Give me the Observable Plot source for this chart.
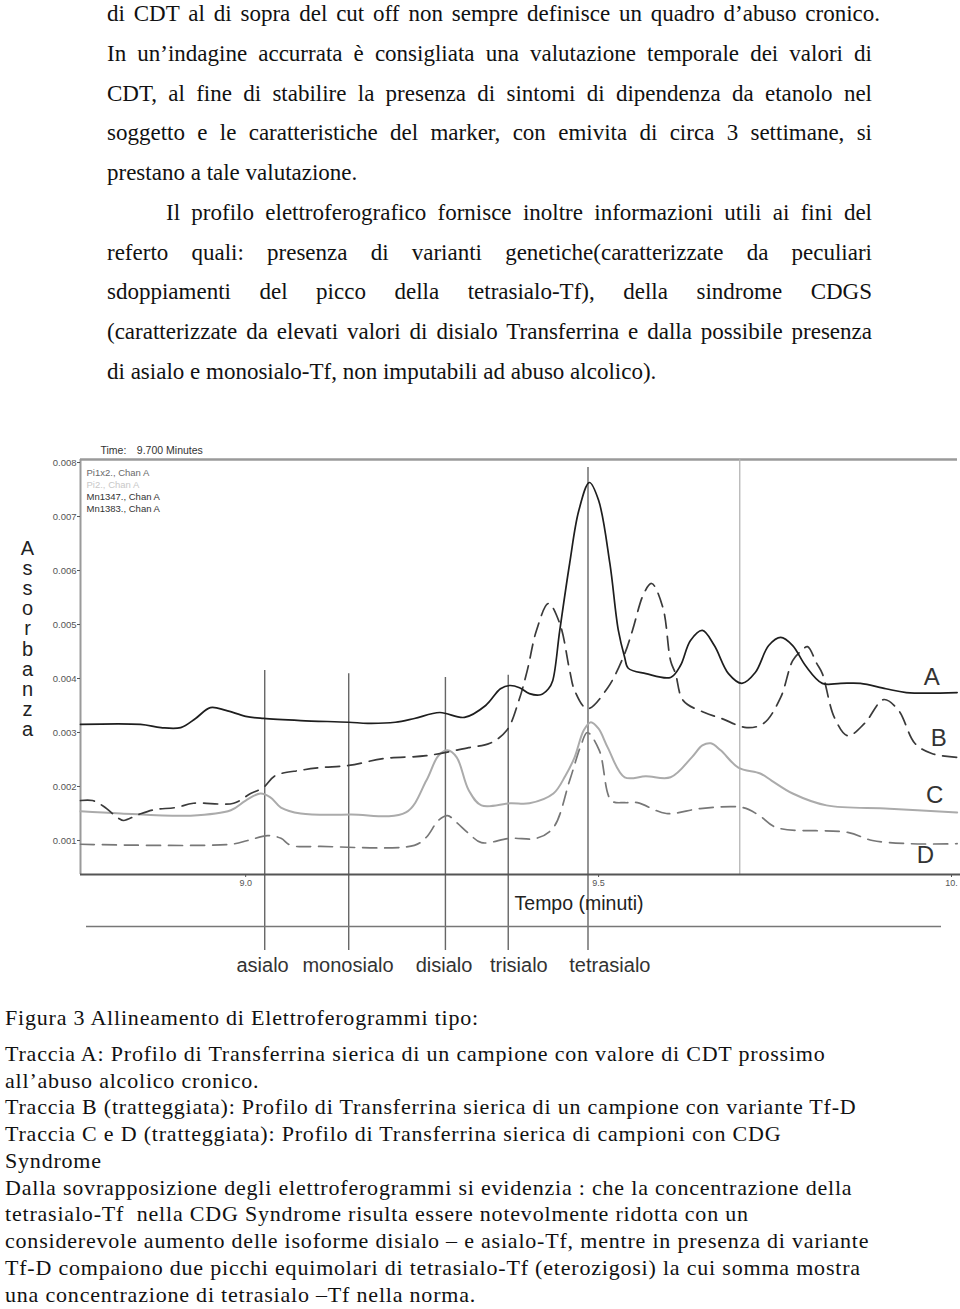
<!DOCTYPE html>
<html>
<head>
<meta charset="utf-8">
<script src="https://cdn.jsdelivr.net/npm/d3@7"></script>
<script src="https://cdn.jsdelivr.net/npm/@observablehq/plot@0.6"></script>
<style>
  html, body { margin: 0; padding: 0; background: #fff; }
  #page { position: relative; width: 960px; height: 1309px; overflow: hidden; background: #fff; }
  #bodytext { position: absolute; left: 107px; top: -6px; width: 765px;
    font-family: "Liberation Serif", "Times New Roman", serif; font-size: 23px; line-height: 39.75px; color: #111; }
  #bodytext .j { text-align: justify; text-align-last: justify; }
  #bodytext .l { text-align: left; }
  #bodytext .wide { width: 773px; text-align: justify; text-align-last: justify; }
  #chart { position: absolute; left: 0; top: 440px; }
  #caption { position: absolute; left: 5px; top: 1005px;
    font-family: "Liberation Serif", "Times New Roman", serif; font-size: 22px; letter-spacing: 0.8px;
    line-height: 26.75px; color: #111; white-space: pre; }
</style>
</head>
<body>
<div id="page">
  <div id="bodytext"></div>
  <div id="chart"></div>
  <div id="caption"></div>
</div>
<script>
// ---------- text content ----------
const paragraph1 = ["di CDT al di sopra del cut off non sempre definisce un quadro d’abuso cronico."];
const paragraph2 = [
  "In un’indagine accurrata è consigliata una valutazione temporale dei valori di",
  "CDT, al fine di stabilire la presenza di sintomi di dipendenza da etanolo nel",
  "soggetto e le caratteristiche del marker, con emivita di circa 3 settimane, si",
  "prestano a tale valutazione."
];
const paragraph3 = [
  "Il profilo elettroferografico fornisce inoltre informazioni utili ai fini del",
  "referto quali: presenza di varianti genetiche(caratterizzate da peculiari",
  "sdoppiamenti del picco della tetrasialo-Tf), della sindrome CDGS",
  "(caratterizzate da elevati valori di disialo Transferrina e dalla possibile presenza",
  "di asialo e monosialo-Tf, non imputabili ad abuso alcolico)."
];
const captionTitle = "Figura 3 Allineamento di Elettroferogrammi tipo:";
const captionLines = [
  "Traccia A: Profilo di Transferrina sierica di un campione con valore di CDT prossimo",
  "all’abuso alcolico cronico.",
  "Traccia B (tratteggiata): Profilo di Transferrina sierica di un campione con variante Tf-D",
  "Traccia C e D (tratteggiata): Profilo di Transferrina sierica di campioni con CDG",
  "Syndrome",
  "Dalla sovrapposizione degli elettroferogrammi si evidenzia : che la concentrazione della",
  "tetrasialo-Tf  nella CDG Syndrome risulta essere notevolmente ridotta con un",
  "considerevole aumento delle isoforme disialo – e asialo-Tf, mentre in presenza di variante",
  "Tf-D compaiono due picchi equimolari di tetrasialo-Tf (eterozigosi) la cui somma mostra",
  "una concentrazione di tetrasialo –Tf nella norma."
];

// ---------- chart data ----------
const timeA = [8.766, 8.851, 8.880, 8.908, 8.929, 8.950, 8.972, 9.000, 9.025, 9.078, 9.146, 9.173, 9.212, 9.239, 9.275, 9.310, 9.340, 9.361, 9.374, 9.388, 9.402, 9.418, 9.429, 9.435, 9.445, 9.459, 9.472, 9.487, 9.500, 9.516, 9.528, 9.537, 9.542, 9.567, 9.602, 9.616, 9.630, 9.647, 9.664, 9.684, 9.703, 9.722, 9.741, 9.758, 9.775, 9.793, 9.817, 9.843, 9.871, 9.907, 9.936, 10.008];
const absA  = [0.00315, 0.00315, 0.00309, 0.00309, 0.00326, 0.00346, 0.00341, 0.00330, 0.00326, 0.00322, 0.00319, 0.00317, 0.00319, 0.00326, 0.00337, 0.00328, 0.00350, 0.00381, 0.00387, 0.00383, 0.00372, 0.00370, 0.00381, 0.00396, 0.00489, 0.00613, 0.00711, 0.00763, 0.00730, 0.00613, 0.00489, 0.00439, 0.00419, 0.00409, 0.00402, 0.00424, 0.00470, 0.00489, 0.00461, 0.00409, 0.00391, 0.00411, 0.00461, 0.00476, 0.00461, 0.00424, 0.00391, 0.00391, 0.00391, 0.00381, 0.00374, 0.00374];

const timeB = [8.766, 8.783, 8.799, 8.820, 8.827, 8.848, 8.870, 8.901, 8.926, 8.983, 9.007, 9.025, 9.042, 9.078, 9.106, 9.146, 9.197, 9.256, 9.316, 9.346, 9.370, 9.387, 9.399, 9.412, 9.429, 9.445, 9.459, 9.466, 9.484, 9.513, 9.537, 9.548, 9.564, 9.575, 9.591, 9.602, 9.609, 9.620, 9.650, 9.674, 9.710, 9.734, 9.758, 9.775, 9.788, 9.796, 9.809, 9.817, 9.834, 9.853, 9.877, 9.904, 9.925, 9.948, 9.972, 10.008];
const absB  = [0.00174, 0.00174, 0.00163, 0.00141, 0.00137, 0.00148, 0.00157, 0.00161, 0.00169, 0.00169, 0.00187, 0.00198, 0.00220, 0.00230, 0.00235, 0.00239, 0.00252, 0.00257, 0.00272, 0.00280, 0.00304, 0.00359, 0.00415, 0.00489, 0.00539, 0.00502, 0.00415, 0.00378, 0.00344, 0.00383, 0.00446, 0.00489, 0.00557, 0.00576, 0.00532, 0.00433, 0.00409, 0.00359, 0.00337, 0.00326, 0.00309, 0.00317, 0.00365, 0.00433, 0.00452, 0.00459, 0.00428, 0.00409, 0.00328, 0.00294, 0.00317, 0.00361, 0.00341, 0.00280, 0.00261, 0.00254];

const timeC = [8.766, 8.823, 8.922, 8.979, 9.000, 9.021, 9.035, 9.050, 9.078, 9.149, 9.227, 9.256, 9.273, 9.286, 9.299, 9.316, 9.334, 9.375, 9.402, 9.436, 9.453, 9.466, 9.479, 9.489, 9.500, 9.513, 9.537, 9.567, 9.602, 9.632, 9.647, 9.659, 9.673, 9.698, 9.729, 9.745, 9.775, 9.823, 9.912, 10.008];
const absC  = [0.00154, 0.00150, 0.00146, 0.00156, 0.00174, 0.00187, 0.00180, 0.00161, 0.00150, 0.00148, 0.00152, 0.00211, 0.00257, 0.00267, 0.00254, 0.00193, 0.00165, 0.00169, 0.00169, 0.00187, 0.00220, 0.00254, 0.00304, 0.00319, 0.00307, 0.00272, 0.00217, 0.00219, 0.00217, 0.00254, 0.00276, 0.00280, 0.00267, 0.00235, 0.00224, 0.00211, 0.00187, 0.00165, 0.00159, 0.00152];

const timeD = [8.766, 8.979, 9.003, 9.031, 9.050, 9.064, 9.106, 9.239, 9.256, 9.273, 9.286, 9.299, 9.316, 9.334, 9.375, 9.412, 9.436, 9.459, 9.475, 9.484, 9.501, 9.518, 9.537, 9.555, 9.596, 9.644, 9.704, 9.728, 9.752, 9.853, 9.888, 9.942, 10.008];
const absD  = [0.00093, 0.00093, 0.00100, 0.00109, 0.00104, 0.00091, 0.00089, 0.00091, 0.00106, 0.00137, 0.00146, 0.00133, 0.00113, 0.00096, 0.00104, 0.00104, 0.00124, 0.00211, 0.00276, 0.00300, 0.00267, 0.00174, 0.00170, 0.00170, 0.00150, 0.00159, 0.00161, 0.00146, 0.00124, 0.00115, 0.00100, 0.00094, 0.00094];

// isoform markers (sialo forms)
const isoforms      = ["asialo", "monosialo", "disialo", "trisialo", "tetrasialo"];
const isoformTimes  = [9.027, 9.146, 9.283, 9.372, 9.485];
const isoformTops   = [0.00415, 0.00409, 0.00402, 0.00406, 0.00791];
const isoformLabelTimes = [9.024, 9.145, 9.281, 9.387, 9.516];

// trace labels at right end
const traceNames      = ["A", "B", "C", "D"];
const traceNameTimes  = [9.972, 9.982, 9.976, 9.963];
const traceNameAbs    = [0.00402, 0.00289, 0.00183, 0.00072];

// instrument annotations
const cursorTime   = 9.700;
const cursorLabel  = "Time:\u2002\u20029.700 Minutes";
const legendLabels = ["Pi1x2., Chan A", "Pi2., Chan A", "Mn1347., Chan A", "Mn1383., Chan A"];

// axes
const yTicks = [0.001, 0.002, 0.003, 0.004, 0.005, 0.006, 0.007, 0.008];
const xTicks = [9.0, 9.5, 10.0];
const xTickLabels = ["9.0", "9.5", "10."];
const xTitle = "Tempo (minuti)";
const yTitle = "Assorbanza";

// ---------- render text ----------
const bt = document.getElementById("bodytext");
function addParagraph(lines, indent, lastClass) {
  lines.forEach((s, i) => {
    const d = document.createElement("div");
    d.className = (i < lines.length - 1) ? "j" : lastClass;
    if (i === 0 && indent) d.style.textIndent = indent + "px";
    d.textContent = s;
    bt.appendChild(d);
  });
}
addParagraph(paragraph1, 0, "wide");
addParagraph(paragraph2, 0, "l");
addParagraph(paragraph3, 59, "l");

const cap = document.getElementById("caption");
const t0 = document.createElement("div");
t0.textContent = captionTitle;
t0.style.marginBottom = "9px";
cap.appendChild(t0);
captionLines.forEach(s => { const d = document.createElement("div"); d.textContent = s; cap.appendChild(d); });

// ---------- chart ----------
const toRows = (ts, vs) => ts.map((t, i) => ({t, v: vs[i]}));
const traceA = toRows(timeA, absA);
const traceB = toRows(timeB, absB);
const traceC = toRows(timeC, absC);
const traceD = toRows(timeD, absD);
const isoRows = isoforms.map((name, i) => ({name, t: isoformTimes[i], top: isoformTops[i], lt: isoformLabelTimes[i]}));
const nameRows = traceNames.map((name, i) => ({name, t: traceNameTimes[i], v: traceNameAbs[i]}));

const xDomain = [8.766, 10.0085];
const yDomain = [0.00037, 0.008056];
const legendFill = ["#6a6a6a", "#c8c8c8", "#333", "#333"];

const chart = Plot.plot({
  width: 960,
  height: 545,
  marginTop: 19,
  marginBottom: 111,
  marginLeft: 80,
  marginRight: 3,
  x: {domain: xDomain},
  y: {domain: yDomain},
  style: {fontFamily: "'Liberation Sans', Arial, sans-serif", background: "transparent", overflow: "visible"},
  marks: [
    // frame: top and left borders
    Plot.ruleY([yDomain[1]], {stroke: "#9a9a9a", strokeWidth: 2.5}),
    Plot.ruleX([xDomain[0]], {stroke: "#9a9a9a", strokeWidth: 2}),
    // time cursor
    Plot.ruleX([cursorTime], {stroke: "#b5b5b5", strokeWidth: 1.3}),
    // isoform markers
    Plot.ruleX(isoRows, {x: "t", y1: "top", y2: () => yDomain[0], insetBottom: -76, stroke: "#666", strokeWidth: 1.4}),
    // lower separator line
    Plot.ruleY([yDomain[0]], {dy: 52, insetLeft: 6, insetRight: 16, stroke: "#777", strokeWidth: 1.5}),
    // traces
    Plot.line(traceC, {x: "t", y: "v", stroke: "#ababab", strokeWidth: 2, curve: "catmull-rom"}),
    Plot.line(traceD, {x: "t", y: "v", stroke: "#777", strokeWidth: 1.7, strokeDasharray: "14,8", curve: "catmull-rom"}),
    Plot.line(traceB, {x: "t", y: "v", stroke: "#3a3a3a", strokeWidth: 1.7, strokeDasharray: "14,8", curve: "catmull-rom"}),
    Plot.line(traceA, {x: "t", y: "v", stroke: "#1e1e1e", strokeWidth: 1.7, curve: "catmull-rom"}),
    // x axis line
    Plot.ruleY([yDomain[0]], {stroke: "#555", strokeWidth: 2, insetRight: -3}),
    // axes
    Plot.axisY(yTicks, {tickSize: 3, tickPadding: 1, fontSize: 9.5, color: "#555", tickFormat: d => d.toFixed(3), label: null}),
    Plot.axisX(xTicks, {tickSize: 3, tickPadding: 2, fontSize: 9, color: "#555", tickFormat: d => xTickLabels[xTicks.indexOf(d)], label: null}),
    // titles
    Plot.text([xTitle], {frameAnchor: "bottom", lineAnchor: "middle", dx: 60, dy: 29, fontSize: 19.5, fill: "#222"}),
    Plot.text([yTitle.split("").join("\n")], {frameAnchor: "left", lineAnchor: "middle", textAnchor: "middle", dx: -53, dy: -28, fontSize: 20, lineHeight: 1.01, fill: "#222"}),
    // isoform labels
    Plot.text(isoRows, {x: "lt", text: "name", frameAnchor: "bottom", lineAnchor: "middle", dy: 91, fontSize: 20, fill: "#333"}),
    // trace names
    Plot.text(nameRows, {x: "t", y: "v", text: "name", fontSize: 24, fill: "#333"}),
    // instrument annotations
    Plot.text([cursorLabel], {frameAnchor: "top-left", textAnchor: "start", lineAnchor: "middle", dx: 20, dy: -9, fontSize: 10.5, fill: "#333"}),
    ...legendLabels.map((s, i) => Plot.text([s], {frameAnchor: "top-left", textAnchor: "start", lineAnchor: "middle", dx: 6, dy: 13 + 12.3 * i, fontSize: 9.5, fill: legendFill[i]}))
  ]
});
document.getElementById("chart").appendChild(chart);
</script>
</body>
</html>
